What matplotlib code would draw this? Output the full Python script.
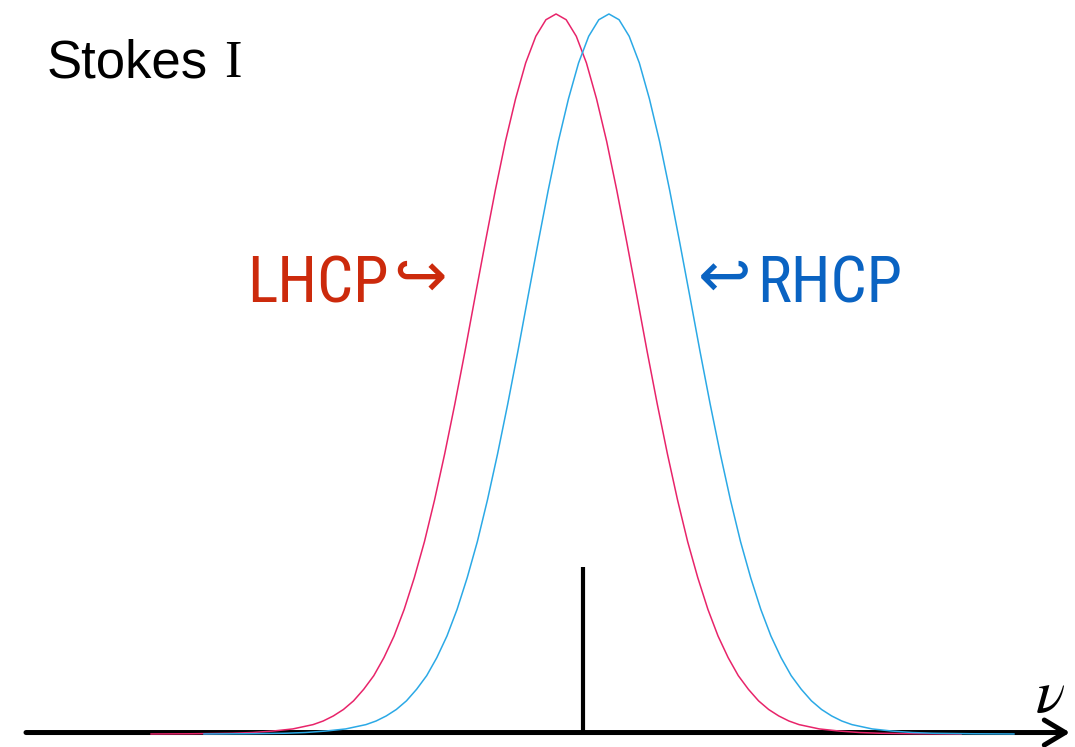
"""Stokes I sketch: LHCP and RHCP line profiles either side of the rest frequency."""

import numpy as np
import matplotlib
matplotlib.use("Agg")
import matplotlib.pyplot as plt

# Profile: offset from line centre (in widths) and height
profile_offset = [-5.0, -4.5, -4.0, -3.75, -3.5, -3.25, -3.0, -2.875, -2.75, -2.625,
                  -2.5, -2.375, -2.25, -2.125, -2.0, -1.875, -1.75, -1.625, -1.5, -1.375,
                  -1.25, -1.125, -1.0, -0.875, -0.75, -0.625, -0.5, -0.375, -0.25, -0.125,
                  0.0, 0.125, 0.25, 0.375, 0.5, 0.625, 0.75, 0.875, 1.0, 1.125,
                  1.25, 1.375, 1.5, 1.625, 1.75, 1.875, 2.0, 2.125, 2.25, 2.375,
                  2.5, 2.625, 2.75, 2.875, 3.0, 3.25, 3.5, 3.75, 4.0, 4.5, 5.0]
profile_height = [0.0, 0.0003, 0.001, 0.002, 0.004, 0.007, 0.013, 0.018, 0.025, 0.034,
                  0.046, 0.062, 0.081, 0.106, 0.136, 0.173, 0.217, 0.267, 0.325, 0.389,
                  0.458, 0.531, 0.607, 0.682, 0.755, 0.823, 0.882, 0.932, 0.969, 0.992,
                  1.0, 0.992, 0.969, 0.932, 0.882, 0.823, 0.755, 0.682, 0.607, 0.531,
                  0.458, 0.389, 0.325, 0.267, 0.217, 0.173, 0.136, 0.106, 0.081, 0.062,
                  0.046, 0.034, 0.025, 0.018, 0.013, 0.007, 0.004, 0.002, 0.001, 0.0003, 0.0]

# Line centres relative to the rest frequency nu_0
lhcp_centre = -0.333
rhcp_centre = 0.32
rest_line_height = 0.232

RED = "#E8246A"
BLUE = "#2BA9E6"
LHCP_TEXT = "#CC2A0C"
RHCP_TEXT = "#0A63C2"
NARROW = ["Roboto Condensed", "DejaVu Sans"]

fig = plt.figure(figsize=(10.75, 7.47), dpi=100)
ax = fig.add_axes([0, 0, 1, 1])
ax.set_xlim(-7.198, 6.074)
ax.set_ylim(-0.0181, 1.0194)
ax.axis("off")

offset = np.array(profile_offset)
ax.plot(offset + lhcp_centre, profile_height, color=RED, lw=1.1, zorder=3)
ax.plot(offset + rhcp_centre, profile_height, color=BLUE, lw=1.1, zorder=3)

# rest frequency marker
ax.plot([0, 0], [0, rest_line_height], color="black", lw=3.0, solid_capstyle="butt", zorder=2)

# frequency axis with open arrow head
ax.annotate("", xy=(6.012, 0.002), xytext=(-6.877, 0.002),
            arrowprops=dict(arrowstyle="->,head_length=0.75,head_width=0.45",
                            color="black", lw=3.6, shrinkA=0, shrinkB=0,
                            mutation_scale=20),
            zorder=2)

fig.text(1050 / 1075, 1 - 712 / 747, r"$\nu$", fontsize=44, math_fontfamily="stix",
         ha="center", va="baseline")

fig.text(47 / 1075, 1 - 77 / 747, "Stokes", fontsize=38, family="Liberation Sans",
         ha="left", va="baseline")
fig.text(224 / 1075, 1 - 77 / 747, "I", fontsize=38, family="Liberation Serif",
         ha="left", va="baseline")

# circular polarisation labels, each with its hook arrow
baseline = 1 - 303 / 747
arrow_base = 1 - 297 / 747
fig.text(247 / 1075, baseline, "LHCP", fontsize=46, color=LHCP_TEXT,
         family=NARROW, ha="left", va="baseline")
fig.text(393 / 1075, arrow_base, "↪", fontsize=46, color=LHCP_TEXT,
         family="DejaVu Sans", ha="left", va="baseline")
fig.text(698 / 1075, arrow_base, "↩", fontsize=46, color=RHCP_TEXT,
         family="DejaVu Sans", ha="left", va="baseline")
fig.text(757 / 1075, baseline, "RHCP", fontsize=46, color=RHCP_TEXT,
         family=NARROW, ha="left", va="baseline")

fig.savefig("out.png", dpi=100)
plt.close(fig)
